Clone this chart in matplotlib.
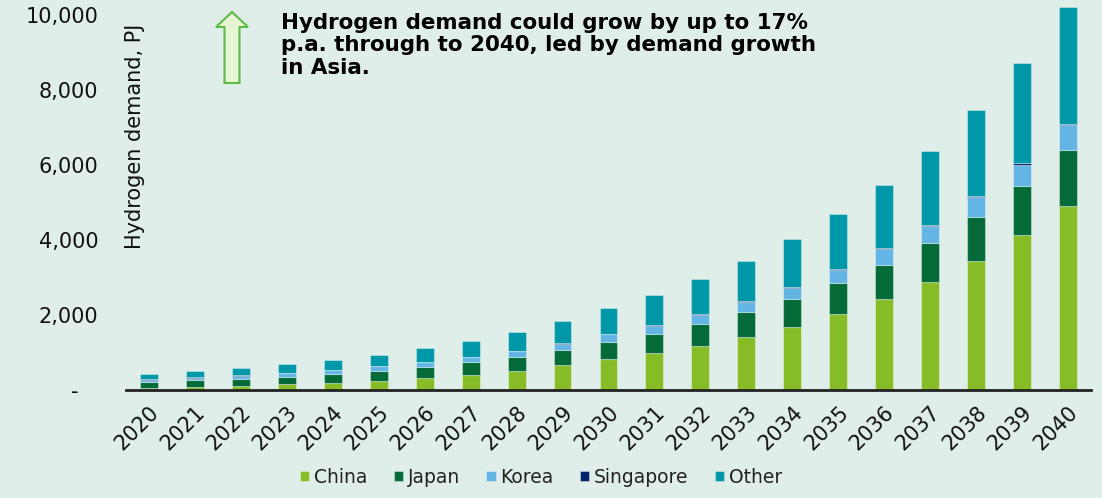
import matplotlib
matplotlib.use("Agg")
import matplotlib.pyplot as plt
from matplotlib.patches import FancyArrow
from matplotlib.transforms import IdentityTransform
from matplotlib.ticker import FuncFormatter
import numpy as np

# data (PJ)
years = [str(y) for y in range(2020, 2041)]
china = [62, 80, 116, 151, 196, 249, 320, 400, 516, 658, 827, 996,
         1182, 1413, 1689, 2018, 2418, 2888, 3440, 4124, 4907]
japan = [151, 187, 186, 205, 231, 258, 293, 338, 364, 409, 453, 497,
         578, 658, 738, 835, 924, 1040, 1182, 1325, 1493]
korea = [63, 62, 80, 97, 106, 124, 125, 133, 151, 169, 204, 223,
         249, 267, 302, 356, 409, 453, 516, 560, 658]
singapore = [8, 8, 9, 9, 10, 10, 9, 9, 18, 17, 18, 17,
             18, 26, 27, 18, 27, 27, 35, 44, 35]
other = [143, 161, 187, 222, 257, 301, 364, 427, 498, 587, 676, 800,
         924, 1076, 1262, 1457, 1698, 1973, 2285, 2667, 3112]

series = [("China", china, "#86BC25"),
          ("Japan", japan, "#046A38"),
          ("Korea", korea, "#62B5E5"),
          ("Singapore", singapore, "#012169"),
          ("Other", other, "#0097A9")]

bg = "#DFEEE9"
plt.rcParams['font.family'] = ['DejaVu Sans']

fig = plt.figure(figsize=(11.02, 4.98), dpi=100, facecolor=bg)
ax = fig.add_axes([0.1143, 0.2169, 0.8757, 0.7831], facecolor=bg)

x = np.arange(len(years))
bottom = np.zeros(len(years))
for name, vals, col in series:
    ax.bar(x, vals, width=0.39, bottom=bottom, color=col, label=name,
           edgecolor=(1, 1, 1, 0.35), linewidth=0.8)
    bottom += np.array(vals)

ax.set_xlim(-0.5, len(years) - 0.5)
ax.set_ylim(0, 10400)
ax.set_yticks([0, 2000, 4000, 6000, 8000, 10000])
ax.yaxis.set_major_formatter(FuncFormatter(lambda v, p: "-   " if v == 0 else f"{v:,.0f}"))
ax.set_xticks(x)
ax.set_xticklabels(years, rotation=45, ha="right", rotation_mode="anchor")

for s in ["top", "right", "left"]:
    ax.spines[s].set_visible(False)
ax.spines["bottom"].set_color("#222222")
ax.spines["bottom"].set_linewidth(2)
ax.tick_params(axis="y", length=0, pad=20, labelsize=15, labelcolor="#111111")
ax.tick_params(axis="x", length=0, pad=9, labelsize=15, labelcolor="#111111")

fig.text(135 / 1102, 1 - 136 / 498, "Hydrogen demand, PJ", rotation=90,
         ha="center", va="center", fontsize=15, color="#111111")

# headline + arrow
fig.text(281 / 1102, 1 - 13 / 498,
         "Hydrogen demand could grow by up to 17%\np.a. through to 2040, led by demand growth\nin Asia.",
         ha="left", va="top", fontsize=15.4, fontweight="bold", linespacing=1.15,
         color="#000000")
arr = FancyArrow(232, 498 - 83, 0, 71, width=15, head_width=32, head_length=15,
                 length_includes_head=True, facecolor="#E6F5D3", edgecolor="#5DBB46",
                 linewidth=1.5, transform=IdentityTransform())
fig.add_artist(arr)

fig.legend(loc="center", bbox_to_anchor=(0.491, 0.042), ncol=5, frameon=False,
           prop={"size": 13.5},
           handlelength=0.5, handleheight=0.5, handletextpad=0.25,
           columnspacing=1.4, labelcolor="#222222")

fig.savefig("out.png", dpi=100, facecolor=bg)
